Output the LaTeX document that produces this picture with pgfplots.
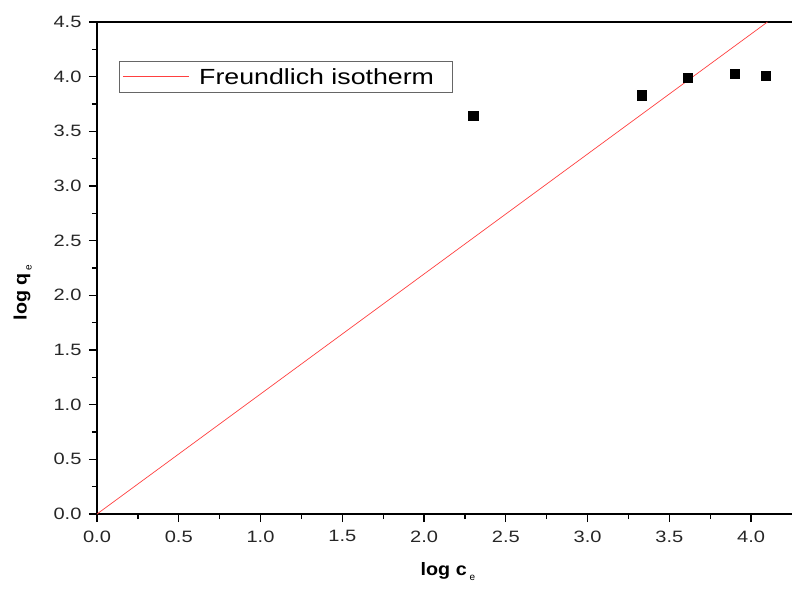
\documentclass[border=0pt]{standalone}
\usepackage{pgfplots}
\pgfplotsset{compat=1.18}
\usepackage{fontspec}
\setmainfont{Liberation Sans}
\newfontfamily\stretchfont{Liberation Sans}[FakeStretch=1.22]
\newfontfamily\stretchbold{Liberation Sans Bold}[FakeStretch=1.1]
\newfontfamily\subfont{Liberation Sans}
\newcommand{\lowsub}[1]{\raisebox{-5bp}{\subfont\fontsize{10}{10}\selectfont #1}}
\pgfplotsset{longline/.style={legend image code/.code={\draw[##1] (0bp,0bp) -- (66bp,0bp);}}}
\begin{document}
\begin{tikzpicture}
\begin{axis}[
  name=ax,
  scale only axis,
  width=695bp, height=492bp,
  xmin=0, xmax=4.25, ymin=0, ymax=4.5,
  axis x line=box, axis y line=left,
  axis line style={-, line width=2bp, black},
  xtick={0,0.5,...,4.0}, ytick={0,0.5,...,4.5},
  xtick pos=bottom, ytick pos=left,
  minor tick num=1,
  tick align=outside,
  major tick length=8bp, minor tick length=5bp,
  tick style={black, line width=1.3bp},
  /pgf/number format/assume math mode=true,
  /pgf/number format/.cd, fixed, fixed zerofill, precision=1, /pgfplots/.cd,
  ticklabel style={font=\stretchfont\fontsize{16.5}{18}\selectfont, text=black!85},
  xticklabel style={yshift=-5bp},
  yticklabel style={xshift=-4bp},
  xlabel={log c\,\lowsub{e}},
  ylabel={log q\,\lowsub{e}},
  every axis x label/.style={at={(axis description cs:0.505,-0.116)}, anchor=center, font=\stretchbold\fontsize{18}{20}\selectfont},
  every axis y label/.style={at={(axis description cs:-0.107,0.45)}, rotate=90, anchor=center, font=\stretchbold\fontsize{18}{20}\selectfont},
  legend style={at={(0.032,0.921)}, anchor=north west, draw=black!60, line width=0.6bp,
    inner xsep=3bp, inner ysep=5bp,
    font=\stretchfont\fontsize{22}{24}\selectfont},
  legend cell align=left,
  clip=true,
]
\addplot[red!75, line width=0.7bp, longline] table {
x y
0.0 0.0
4.1 4.5
};
\addlegendentry{\hspace{8bp}\makebox[248bp][l]{Freundlich isotherm}}
\addplot[only marks, mark=square*, mark size=4.6bp, black, forget plot] table {
x y
2.30 3.64
3.33 3.83
3.61 3.99
3.90 4.03
4.09 4.01
};
\end{axis}
\pgfresetboundingbox
\path[use as bounding box] ([xshift=-97bp,yshift=-76bp]ax.south west) rectangle ([yshift=22bp]ax.north east);
\end{tikzpicture}
\end{document}
